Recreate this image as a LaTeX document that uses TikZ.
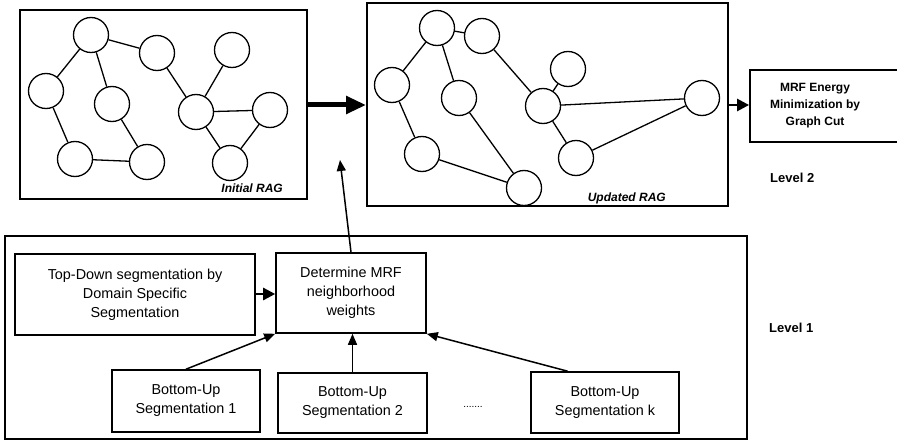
\documentclass[tikz,border=0pt]{standalone}
\usepackage{fontspec}
\setmainfont{Liberation Sans}
\usetikzlibrary{arrows.meta,calc}
\tikzset{
  frame/.style={draw,line width=1.8pt},
  rag/.style={draw,circle,line width=1.3pt,minimum size=35pt,inner sep=0pt},
  edge/.style={line width=1.3pt},
  procbox/.style={draw,line width=1.6pt,align=center,inner sep=0pt,font=\fontsize{14.4}{19}\selectfont},
  boldtxt/.style={font=\bfseries\fontsize{12}{17}\selectfont,align=center,inner sep=0pt},
  lvltxt/.style={font=\bfseries\fontsize{13}{15}\selectfont,inner sep=0pt},
  raglabel/.style={font=\bfseries\itshape\fontsize{12}{14}\selectfont,inner sep=0pt},
  arr/.style={line width=1.5pt,-{Triangle[length=11pt,width=9pt]}},
  thickarr/.style={line width=5pt,-{Triangle[length=20pt,width=17pt]}},
}
\begin{document}
\begin{tikzpicture}[x=1pt,y=-1pt]
\useasboundingbox (0,0) rectangle (897,441);
\clip (0,0) rectangle (897,441);
% frames
\node[frame,minimum width=287pt,minimum height=189pt,inner sep=0pt] (initbox) at (163.5,104.5) {};
\node[frame,minimum width=361pt,minimum height=203pt,inner sep=0pt] (updbox) at (547.5,104.5) {};
\node[frame,minimum width=742pt,minimum height=203pt,inner sep=0pt] (lvl1box) at (376,337.5) {};
\node[raglabel,anchor=east] (initlbl) at (283,188) {Initial RAG};
\node[raglabel,anchor=east] (updlbl) at (666,198) {Updated RAG};
% initial RAG
\node[rag] (a) at (91,35) {};
\node[rag] (b) at (157,53) {};
\node[rag] (c) at (232,50) {};
\node[rag] (d) at (46,91) {};
\node[rag] (e) at (112,104) {};
\node[rag] (f) at (196,112) {};
\node[rag] (g) at (270,110) {};
\node[rag] (h) at (75,159) {};
\node[rag] (i) at (147,162) {};
\node[rag] (j) at (230,163) {};
\draw[edge] (a) -- (b);
\draw[edge] (a) -- (d);
\draw[edge] (a) -- (e);
\draw[edge] (b) -- (f);
\draw[edge] (c) -- (f);
\draw[edge] (f) -- (g);
\draw[edge] (f) -- (j);
\draw[edge] (g) -- (j);
\draw[edge] (d) -- (h);
\draw[edge] (h) -- (i);
\draw[edge] (e) -- (i);
% updated RAG
\node[rag] (p1) at (437,28) {};
\node[rag] (p2) at (482,36) {};
\node[rag] (p3) at (392,85) {};
\node[rag] (p4) at (459,98) {};
\node[rag] (p5) at (568,69) {};
\node[rag] (p6) at (543,106) {};
\node[rag] (p7) at (702,98) {};
\node[rag] (p8) at (422,154) {};
\node[rag] (p9) at (576,158) {};
\node[rag] (p10) at (524,188) {};
\draw[edge] (p1) -- (p2);
\draw[edge] (p1) -- (p3);
\draw[edge] (p1) -- (p4);
\draw[edge] (p2) -- (p6);
\draw[edge] (p5) -- (p6);
\draw[edge] (p6) -- (p7);
\draw[edge] (p6) -- (p9);
\draw[edge] (p9) -- (p7);
\draw[edge] (p3) -- (p8);
\draw[edge] (p8) -- (p10);
\draw[edge] (p4) -- (p10);
% MRF box
\node[draw,line width=1.8pt,minimum width=160pt,minimum height=72pt,inner sep=0pt] (mrfbox) at (830,106) {};
\node[boldtxt] (mrftxt) at (815,106) {MRF Energy\\Minimization by\\Graph Cut};
\node[lvltxt,anchor=west] (lv2) at (770,178) {Level 2};
\node[lvltxt,anchor=west] (lv1) at (769,328) {Level 1};
% level 1 boxes
\node[procbox,minimum width=240pt,minimum height=81pt] (td) at (135,294.5) {Top-Down segmentation by\\Domain Specific\\Segmentation};
\node[procbox,minimum width=150pt,minimum height=80pt] (det) at (351,293) {Determine MRF\\neighborhood\\weights};
\node[procbox,minimum width=148pt,minimum height=62pt] (bu1) at (186,401) {Bottom-Up\\Segmentation 1};
\node[procbox,minimum width=149pt,minimum height=60pt] (bu2) at (352.5,403) {Bottom-Up\\Segmentation 2};
\node[procbox,minimum width=148pt,minimum height=61pt] (buk) at (605,402.5) {Bottom-Up\\Segmentation k};
\node[font=\fontsize{10}{12}\selectfont,inner sep=0pt] (dots) at (473,407) {.......};
% arrows
\draw[thickarr] (initbox.east |- 0,105) -- (updbox.west |- 0,105);
\draw[line width=2.5pt,-{Triangle[length=12pt,width=12pt]}] (updbox.east |- 0,105) -- (mrfbox.west |- 0,105);
\draw[line width=2.5pt,-{Triangle[length=12pt,width=12pt]}] (td.east |- 0,294) -- (det.west |- 0,294);
\coordinate (uptip) at (340,160);
\draw[arr] (det.north) -- (uptip);
\draw[arr] (bu1.north) -- (det.south west);
\draw[arr] (bu2.north) -- (bu2.north |- det.south);
\draw[arr] ($(buk.north west)!0.25!(buk.north east)$) -- (det.south east);
\end{tikzpicture}
\end{document}
